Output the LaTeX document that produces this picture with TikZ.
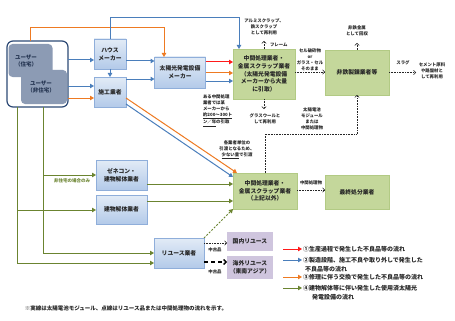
\documentclass[tikz,border=0pt]{standalone}
\usepackage{fontspec}
\setmainfont{Noto Sans CJK JP}
\usetikzlibrary{arrows.meta}
\definecolor{cblue}{HTML}{4A7EBB}
\definecolor{cred}{HTML}{FF1A1A}
\definecolor{corange}{HTML}{EE7A22}
\definecolor{cgreen}{HTML}{6B8430}
\definecolor{boxtop}{HTML}{E2EBF6}
\definecolor{boxbot}{HTML}{B3CAE9}
\definecolor{boxdraw}{HTML}{8FAEDA}
\definecolor{gfill}{HTML}{C4D79B}
\definecolor{gdraw}{HTML}{B2CA84}
\definecolor{lav}{HTML}{CFC5DE}
\definecolor{ufill}{HTML}{8C9BB4}
\definecolor{uborder}{HTML}{2E4A76}
\definecolor{utext}{HTML}{253552}
\begin{document}
\begin{tikzpicture}[x=1pt,y=-1pt,
 every node/.style={inner sep=0pt,outer sep=0pt,align=center},
 boxfont/.style={font=\fontsize{5.8}{7.8}\selectfont\bfseries,text=black!85},
 bluebox/.style={boxfont,draw=boxdraw,line width=0.5pt,top color=boxtop,bottom color=boxbot},
 greenbox/.style={boxfont,draw=gdraw,line width=0.4pt,fill=gfill},
 lavbox/.style={boxfont,fill=lav},
 userbox/.style={fill=ufill,rounded corners=4pt},
 usertext/.style={font=\fontsize{5.5}{7.8}\selectfont\bfseries,text=utext},
 small/.style={font=\fontsize{4.4}{6}\selectfont\bfseries,text=black!85},
 legtext/.style={font=\fontsize{6}{7}\selectfont\bfseries,text=black!85,anchor=west},
 tip/.style={-{Triangle[length=4pt,width=4.4pt]}},
 bl/.style={draw=cblue,line width=1pt,tip},
 rd/.style={draw=cred,line width=1pt,tip},
 orl/.style={draw=corange,line width=1pt,tip},
 gr/.style={draw=cgreen,line width=1pt,tip},
 grd/.style={draw=cgreen,line width=0.9pt,dash pattern=on 2pt off 1.5pt,tip},
 dt/.style={draw=black!85,line width=0.6pt,densely dotted,-{Straight Barb[length=2pt,width=4.4pt]}},
 thdash/.style={draw=black,line width=1.4pt,dash pattern=on 4pt off 3pt,-{Straight Barb[length=2.5pt,width=5pt]}}
]
\useasboundingbox[fill=white] (0,0) rectangle (455,321);

% user boxes
\node[draw=uborder,line width=1.2pt,rounded corners=6pt,minimum width=61pt,minimum height=66pt] (userouter) at (37.5,74) {};
\node[userbox,minimum width=44pt,minimum height=33pt] (user1) at (30.5,60.5) {};
\node[usertext] (user1t) at (26,61) {ユーザー\\（住宅）};
\node[userbox,minimum width=46pt,minimum height=34pt] (user2) at (44,87) {};
\node[usertext] (user2t) at (41,87) {ユーザー\\（非住宅）};

% blue boxes
\node[bluebox,minimum width=32pt,minimum height=30pt] (house) at (110,54) {ハウス\\メーカー};
\node[bluebox,minimum width=32pt,minimum height=30pt] (sekou) at (110,92) {施工業者};
\node[bluebox,minimum width=51pt,minimum height=31pt] (maker) at (180,72.5) {太陽光発電設備\\メーカー};
\node[bluebox,minimum width=51pt,minimum height=30pt] (zenecon) at (121.5,175) {ゼネコン・\\建物解体業者};
\node[bluebox,minimum width=51pt,minimum height=29pt] (kaitai) at (121.5,209.5) {建物解体業者};
\node[bluebox,minimum width=50pt,minimum height=30pt] (reuse) at (179,253) {リユース業者};

% green boxes
\node[greenbox,minimum width=62pt,minimum height=50pt] (mid1) at (264,74) {中間処理業者・\\金属スクラップ業者\\（太陽光発電設備\\メーカーから大量\\に引取）};
\node[greenbox,minimum width=64pt,minimum height=45pt] (hitetsu) at (357,72.5) {非鉄製錬業者等};
\node[greenbox,minimum width=64pt,minimum height=36pt] (mid2) at (265,191) {中間処理業者・\\金属スクラップ業者\\（上記以外）};
\node[greenbox,minimum width=64pt,minimum height=34pt] (final) at (357,192) {最終処分業者};

% lavender boxes
\node[lavbox,minimum width=46pt,minimum height=19pt] (domestic) at (250,241.5) {国内リユース};
\node[lavbox,minimum width=46pt,minimum height=23pt] (overseas) at (250,267.5) {海外リユース\\（東南アジア）};

% blue / orange / red connectors
\draw[bl] (userouter.east |- 0,60) -- (house.west |- 0,60);
\draw[bl] (userouter.east |- 0,86) -- (sekou.west |- 0,86);
\draw[orl] (userouter.east |- 0,98) -- (sekou.west |- 0,98);
\draw[orl] (userouter.north -| 30,0) |- (164,28) -- (maker.north -| 164,0);
\draw[bl] (house.north) |- (239,18) -- (mid1.north -| 239,0);
\draw[bl] (house.east |- 0,61) -- (maker.west |- 0,61);
\draw[bl] (house.south) -- (sekou.north);
\draw[bl] (sekou.east |- 0,79) -- (maker.west |- 0,79);
\draw[rd] (maker.east |- 0,62) -- (mid1.west |- 0,62);
\draw[orl] (maker.east |- 0,73) -- (mid1.west |- 0,73);
\draw[bl] (maker.east |- 0,81) -- (mid1.west |- 0,81);
\draw[orl] (sekou.east |- 0,98) -- ([xshift=4pt]mid2.north west);
\draw[bl] (sekou.east |- 0,104) -- ([yshift=-4pt]mid2.north west);

% green connectors
\coordinate (g1) at (17,210);
\coordinate (g2) at (43,175);
\draw[gr] (userouter.south -| 17,0) |- (reuse.west |- 0,263);
\draw[gr] (g1) -- (kaitai.west |- g1);
\draw[gr] (userouter.south -| 43,0) |- (reuse.west |- 0,253);
\draw[gr] (g2) -- (zenecon.west |- g2);
\draw[gr] (zenecon.east |- 0,184) -- (mid2.west |- 0,184);
\draw[gr] (kaitai.east |- 0,201) -- (mid2.west |- 0,201);
\draw[grd] (reuse.north east) -- (mid2.south west);
\node[font=\fontsize{4.5}{5}\selectfont\bfseries,text=cgreen] (nonres) at (72,181) {非住宅の場合のみ};

% dotted connectors
\coordinate (frametip) at (264,41);
\coordinate (glasstip) at (264,109);
\coordinate (metaltip) at (357,43);
\coordinate (slagtip) at (416,72.5);
\draw[dt] (mid1.north) -- (frametip);
\draw[dt] (mid1.south) -- (glasstip);
\draw[dt] (mid1.east |- 0,72) -- (hitetsu.west |- 0,72);
\draw[dt] (hitetsu.north) -- (metaltip);
\draw[dt] (hitetsu.east) -- (slagtip);
\draw[dt] (mid2.north) -- (265,134) -- (357,134) -- (hitetsu.south);
\draw[dt] (mid2.east |- 0,190) -- (final.west |- 0,190);
\draw[dt] (reuse.east |- 0,243) -- (domestic.west |- 0,243);
\draw[thdash] (reuse.east |- 0,262) -- (overseas.west |- 0,262);

% small labels
\node[small] (alu) at (264,27) {アルミスクラップ、\\鉄スクラップ\\として再利用};
\node[small,anchor=west] (frame) at (270,45) {フレーム};
\node[small] (cell) at (310,60) {セル破砕物\\or\\ガラス・セル\\そのまま};
\node[small] (nonfe) at (357,31) {非鉄金属\\として回収};
\node[small] (slag) at (403,63) {スラグ};
\node[small] (cement) at (432,71) {セメント原料\\や路盤材と\\して再利用};
\node[small,align=left,anchor=north west] (some) at (203,95) {ある中間処理\\業者では某\\メーカーから\\\underline{約200～300ト}\\\underline{ン／年}の引取};
\node[small] (glass) at (265,118.5) {グラスウールと\\して再利用};
\node[small] (each) at (237,150) {各業者単位の\\引渡となるため、\\\underline{少ない量}で引渡};
\node[small] (module) at (312,118.5) {太陽電池\\モジュール\\または\\中間処理物};
\node[small] (midobj) at (311,182.5) {中間処理物};
\node[small] (used1) at (215,250) {中古品};
\node[small] (used2) at (215,272) {中古品};

% legend
\coordinate (ra) at (283,249); \coordinate (rb) at (302,249);
\coordinate (ba) at (283,260); \coordinate (bb) at (302,260);
\coordinate (oa) at (283,277); \coordinate (ob) at (302,277);
\coordinate (ga) at (283,288); \coordinate (gb) at (302,288);
\draw[rd] (ra) -- (rb);
\draw[bl] (ba) -- (bb);
\draw[orl] (oa) -- (ob);
\draw[gr] (ga) -- (gb);
\node[legtext] (leg1) at (303,249) {①生産過程で発生した不良品等の流れ};
\node[legtext] (leg2) at (303,260) {②製造段階、施工不良や取り外しで発生した};
\node[legtext] (leg2b) at (305,269.5) {不良品等の流れ};
\node[legtext] (leg3) at (303,277) {③修理に伴う交換で発生した不良品等の流れ};
\node[legtext] (leg4) at (303,288) {④建物解体等に伴い発生した使用済太陽光};
\node[legtext] (leg4b) at (312,297.5) {発電設備の流れ};

\node[font=\fontsize{5.5}{6}\selectfont\bfseries,text=black!85] (foot) at (126,308) {※実線は太陽電池モジュール、点線はリユース品または中間処理物の流れを示す。};
\end{tikzpicture}
\end{document}
